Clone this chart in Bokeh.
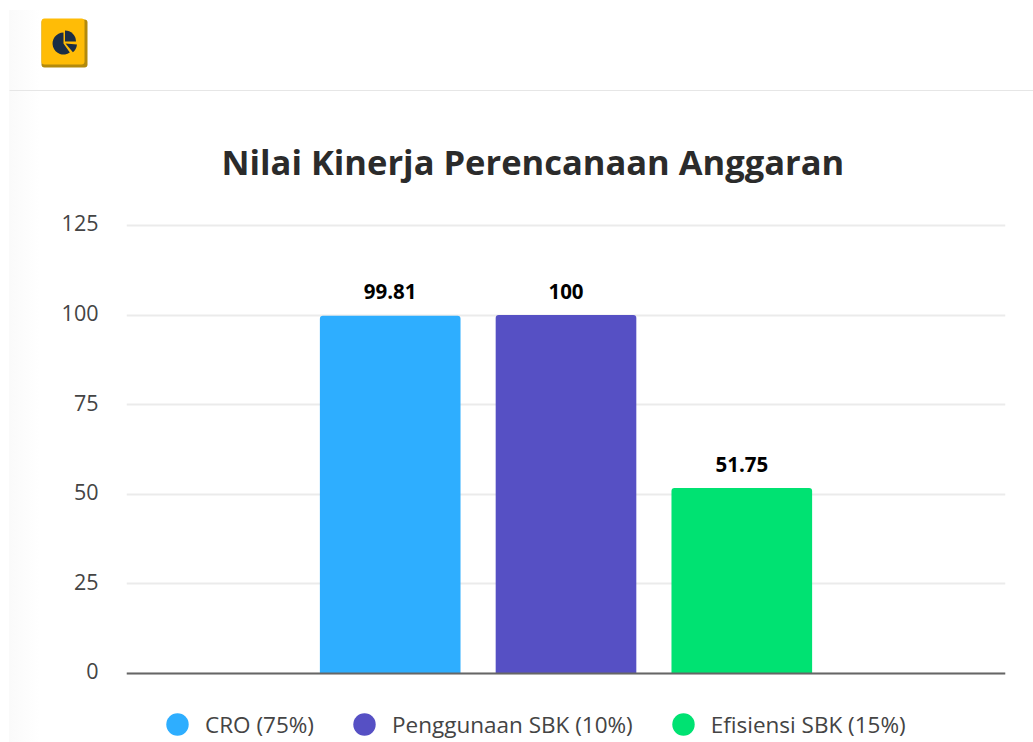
from bokeh.plotting import figure
from bokeh.layouts import column
from bokeh.models import Range1d, FactorRange, ColumnDataSource, Legend, LegendItem, FixedTicker, Title, Span, LinearAxis
from bokeh.core.properties import value
from bokeh.embed import file_html
from bokeh.resources import INLINE
from math import radians

TITLE = "Nilai Kinerja Perencanaan Anggaran"
categories = ["CRO (75%)", "Penggunaan SBK (10%)", "Efisiensi SBK (15%)"]
values = [99.81, 100, 51.75]
labels = ["99.81", "100", "51.75"]
colors = ["#2EAEFF", "#5650C4", "#00E272"]
y_ticks = [0, 25, 50, 75, 100, 125]
FONT = "Open Sans"

# ---------- header strip with icon ----------
h = figure(width=1033, height=91, x_range=Range1d(0, 1033), y_range=Range1d(91, 0),
           toolbar_location=None, output_backend="svg", min_border=0, outline_line_color=None,
           x_axis_location=None, y_axis_location=None)
h.grid.visible = False
h.segment(x0=9, x1=1033, y0=90, y1=90, line_color="#E6E6E6", line_width=1)
h.quad(left=41, right=87, top=19, bottom=67, fill_color="#B38A0C", line_color=None, border_radius=3)
h.quad(left=41, right=84, top=18, bottom=64, fill_color="#FFBC06", line_color=None, border_radius=3)
ICON = "#1B2E45"
h.wedge(x=63, y=43, radius=11, start_angle=radians(90), end_angle=radians(305),
        fill_color=ICON, line_color=None)
h.wedge(x=64.5, y=41, radius=11, start_angle=radians(0), end_angle=radians(90),
        fill_color=ICON, line_color=None, direction="anticlock")
h.wedge(x=65, y=43, radius=11.5, start_angle=radians(-50), end_angle=radians(-5),
        fill_color=ICON, line_color=None)

# ---------- chart ----------
factors = ["_a"] + categories + ["_b"]
p = figure(frame_width=879, frame_height=458, x_range=FactorRange(factors=factors, range_padding=0),
           y_range=Range1d(-0.56, 127.23), toolbar_location=None, output_backend="svg",
           min_border_left=126, min_border_right=28, min_border_top=126, min_border_bottom=10,
           outline_line_color=None,
           x_axis_location=None, y_axis_location=None)
t = Title(text=TITLE, align="left", offset=95, text_font=FONT, text_font_size="34.5px",
          text_font_style="bold", text_color="#2B2B2B", standoff=65)
p.add_layout(t, "above")

src = ColumnDataSource(dict(x=categories, top=values, label=labels, color=colors))
p.vbar(x="x", top="top", width=0.8, source=src, fill_color="color", line_color=None,
       border_radius=(3, 3, 0, 0))
p.text(x="x", y="top", text="label", source=src, text_align="center", text_baseline="middle",
       y_offset=-24, text_font=value(FONT), text_font_size="20.5px", text_font_style="bold",
       text_color="#000000")
p.add_layout(Span(location=0, dimension="width", line_color="#666666", line_width=2))

p.xgrid.visible = False
p.ygrid.grid_line_color = "#EBEBEB"
p.ygrid.grid_line_width = 2
p.ygrid.ticker = FixedTicker(ticks=y_ticks)

p.extra_y_ranges = {"labels": Range1d(-1.12, 126.67)}
ax = LinearAxis(y_range_name="labels", ticker=FixedTicker(ticks=y_ticks))
ax.axis_line_color = None
ax.major_tick_line_color = None
ax.minor_tick_line_color = None
ax.major_label_standoff = 22
ax.major_label_text_font = FONT
ax.major_label_text_font_size = "21.5px"
ax.major_label_text_color = "#444444"
p.add_layout(ax, "left")

# ---------- legend strip ----------
f = figure(width=1033, height=57, x_range=Range1d(0, 1033), y_range=Range1d(0, 57),
           toolbar_location=None, output_backend="svg", min_border=0, outline_line_color=None,
           x_axis_location=None, y_axis_location=None)
f.grid.visible = False
items = []
for i, c in enumerate(categories):
    r = f.scatter(x=[-100], y=[-100], size=22, fill_color=colors[i], line_color=None)
    items.append(LegendItem(label=c, renderers=[r]))
lg = Legend(items=items, orientation="horizontal", location=(149, -10), glyph_width=56, glyph_height=56,
            label_standoff=0, spacing=22, padding=0, margin=0, border_line_color=None,
            background_fill_alpha=0, label_text_font=FONT, label_text_font_size="22.5px",
            label_text_color="#444444")
f.add_layout(lg, "center")

for fig in (h, p, f):
    fig.frame_align = False
    fig.border_fill_color = None
    fig.background_fill_color = None
root = column(h, p, f, spacing=0)
root.styles = {
    "background-image": "linear-gradient(90deg, #FFFFFF 9px, #FAFAFA 9px, #FFFFFF 40px)",
    "background-repeat": "no-repeat",
    "background-position": "0 10px",
}
open("out.html", "w").write(file_html(root, INLINE))
